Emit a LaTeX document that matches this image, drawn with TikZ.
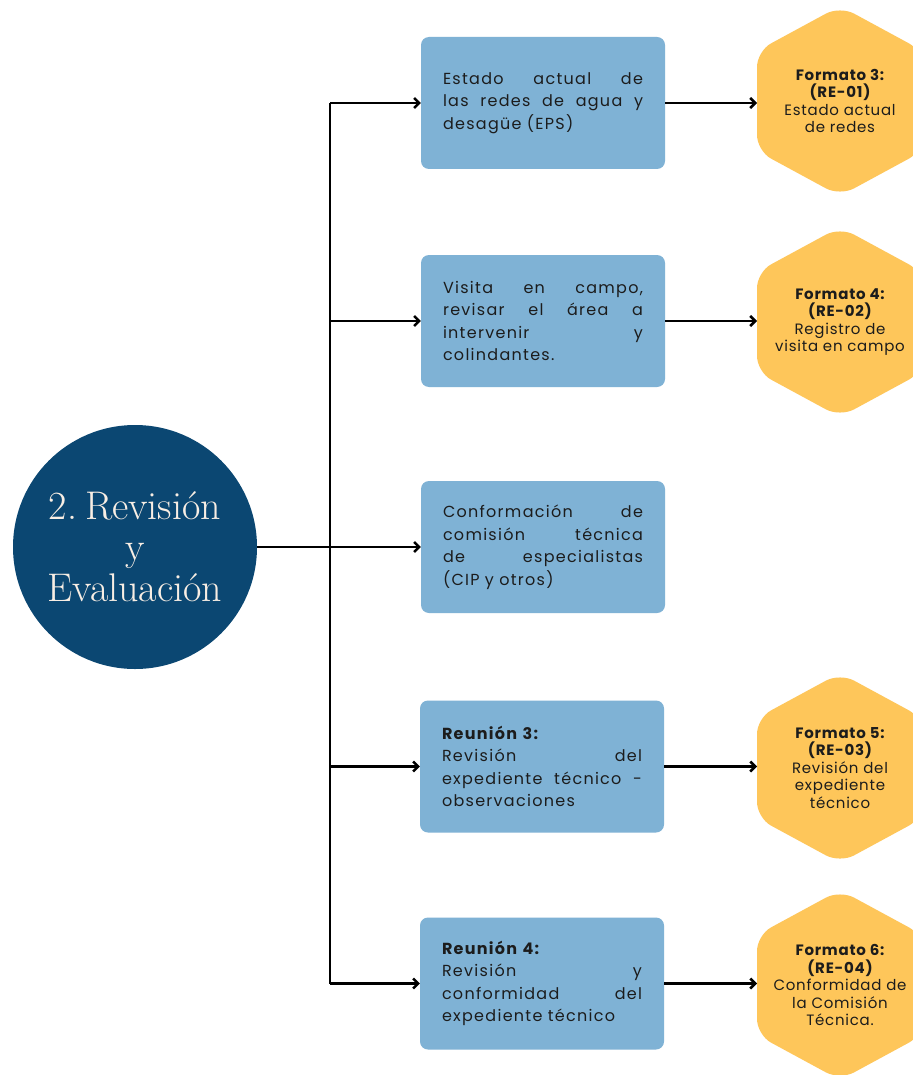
\documentclass[tikz,border=0pt]{standalone}
\usepackage{fontspec}
\newfontfamily\boxfont[LetterSpace=8]{Poppins}
\newfontfamily\hexfont[LetterSpace=5]{Poppins}
\usetikzlibrary{arrows.meta}
\definecolor{navy}{HTML}{0B4772}
\definecolor{skyblue}{HTML}{7FB2D5}
\definecolor{amber}{HTML}{FEC65A}
\definecolor{cream}{HTML}{F8EEE4}
\definecolor{ink}{HTML}{1C1C1C}
% one justified line of a step box (words separated by \hfill)
\newcommand{\jl}[1]{\leavevmode\hbox to 200pt{#1}}
% a rounded hexagon holding a form label: name, centre y, text
\newcommand{\formhex}[3]{%
  \fill[amber, rounded corners=16pt]
    (840,#2-95) -- (923,#2-50) -- (923,#2+50) -- (840,#2+95)
    -- (757,#2+50) -- (757,#2-50) -- cycle;
  \node[formtext] (#1) at (840,#2) {#3};
  \coordinate (#1w) at (757,#2);
}
\tikzset{
  stagecircle/.style={circle, fill=navy, minimum size=244pt, inner sep=0pt,
    text=cream, align=center, font=\fontsize{40}{41}\selectfont},
  stepbox/.style={rectangle, fill=skyblue, rounded corners=8pt,
    minimum width=244pt, minimum height=132pt, inner sep=0pt,
    text width=200pt, align=left, text=ink,
    font=\boxfont\fontsize{16}{22.5}\selectfont},
  formtext/.style={inner sep=0pt, align=center, text=ink,
    font=\hexfont\fontsize{15}{17.5}\selectfont},
  conn/.style={line width=2.5pt, black},
  arr/.style={conn, -{Straight Barb[length=5pt,width=10pt]}},
}
\begin{document}
\begin{tikzpicture}[x=1pt,y=-1pt]
\fill[white] (0,0) rectangle (912,1075);
\useasboundingbox (0,0) rectangle (912,1075);

% stage
\node[stagecircle] (c) at (135,547) {2.\kern0.2em Revisión\\y\\Evaluación};

% steps
\node[stepbox] (b1) at (543,103) {\jl{Estado\hfill actual\hfill de}\\\jl{las\hfill redes\hfill de\hfill agua\hfill y}\\desagüe (EPS)};
\node[stepbox] (b2) at (543,321) {\jl{Visita\hfill en\hfill campo,}\\\jl{revisar\hfill el\hfill área\hfill a}\\\jl{intervenir\hfill y}\\colindantes.};
\node[stepbox] (b3) at (543,547) {\jl{Conformación\hfill de}\\\jl{comisión\hfill técnica}\\\jl{de\hfill especialistas}\\(CIP y otros)};
\node[stepbox] (b4) at (542,766.5) {{\bfseries Reunión 3:}\\\jl{Revisión\hfill del}\\\jl{expediente\hfill técnico\hfill -}\\observaciones};
\node[stepbox] (b5) at (542,983.5) {{\bfseries Reunión 4:}\\\jl{Revisión\hfill y}\\\jl{conformidad\hfill del}\\expediente técnico};

% forms
\formhex{h1}{101}{{\bfseries Formato 3:}\\{\bfseries (RE-01)}\\Estado actual\\de redes}
\formhex{h2}{322}{{\bfseries Formato 4:}\\{\bfseries (RE-02)}\\Registro de\\visita en campo}
\formhex{h3}{768}{{\bfseries Formato 5:}\\{\bfseries (RE-03)}\\Revisión del\\expediente\\técnico}
\formhex{h4}{985}{{\bfseries Formato 6:}\\{\bfseries (RE-04)}\\Conformidad de\\la Comisión\\Técnica.}

% trunk and branches
\coordinate (trunk) at (330,547);
\draw[conn] (trunk |- b1.west) -- (trunk |- b5.west);
\draw[arr] (c.east) -- (b3.west);
\foreach \i in {1,2,4,5} {
  \draw[arr] (trunk |- b\i.west) -- (b\i.west);
}
\draw[arr] (b1.east) -- (b1.east -| h1w);
\draw[arr] (b2.east) -- (b2.east -| h2w);
\draw[arr] (b4.east) -- (b4.east -| h3w);
\draw[arr] (b5.east) -- (b5.east -| h4w);
\end{tikzpicture}
\end{document}
